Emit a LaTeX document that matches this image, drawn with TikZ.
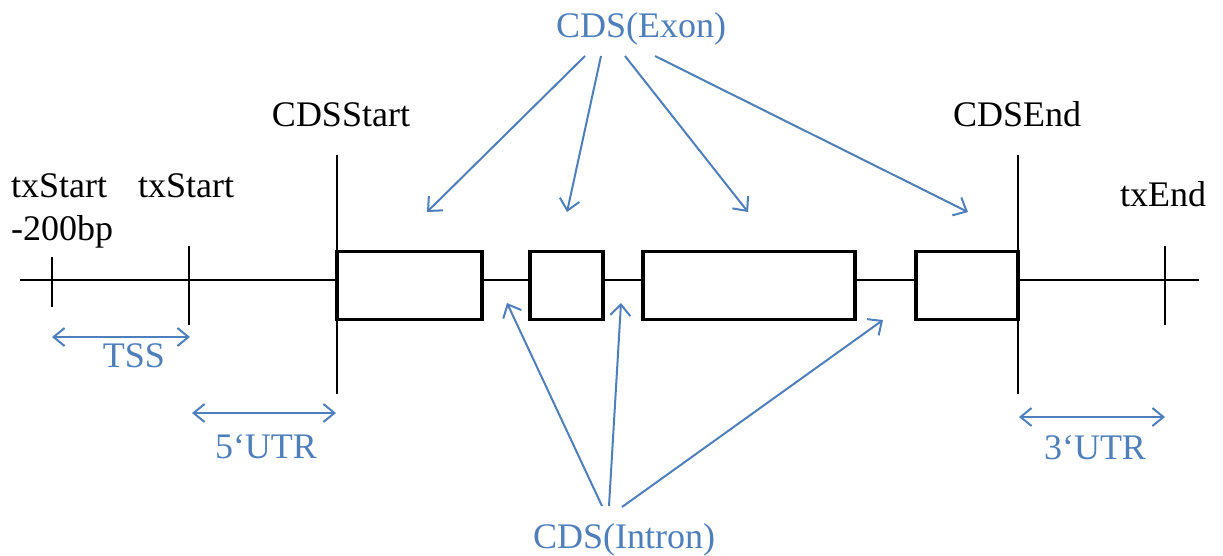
\documentclass[tikz,border=0pt]{standalone}
\usepackage{fontspec}
\setmainfont{Liberation Serif}
\usetikzlibrary{arrows.meta}
\definecolor{accent}{RGB}{79,127,186}
\tikzset{
  lbl/.style={inner sep=0pt, font=\fontsize{36}{42}\selectfont},
  blbl/.style={lbl, text=accent},
  axis/.style={line width=1.8pt, black},
  exonbox/.style={draw=black, fill=white, line width=3.4pt, inner sep=0pt, outer sep=0pt},
  pointer/.style={draw=accent, line width=2pt, -{Straight Barb[length=11pt,width=20pt,line width=2pt]}},
  span/.style={draw=accent, line width=2pt, {Straight Barb[length=11pt,width=18pt,line width=2pt]}-{Straight Barb[length=11pt,width=18pt,line width=2pt]}}
}
\begin{document}
\begin{tikzpicture}[x=1pt,y=-1pt]
\useasboundingbox (0,0) rectangle (1223,555);

% baseline of the transcript
\coordinate (lineL) at (20,280);
\coordinate (lineR) at (1199,280);
\draw[axis] (lineL) -- (lineR);

% position ticks
\coordinate (t1a) at (52,257);  \coordinate (t1b) at (52,307);
\coordinate (t2a) at (189,246); \coordinate (t2b) at (189,325);
\coordinate (csa) at (337,155); \coordinate (csb) at (337,394);
\coordinate (cea) at (1018,155); \coordinate (ceb) at (1018,394);
\coordinate (tea) at (1165,246); \coordinate (teb) at (1165,325);
\draw[axis] (t1a) -- (t1b);
\draw[axis] (t2a) -- (t2b);
\draw[axis] (csa) -- (csb);
\draw[axis] (cea) -- (ceb);
\draw[axis] (tea) -- (teb);

% exons
\node[exonbox, minimum width=145pt, minimum height=68pt] (ex1) at (409.5,285.5) {};
\node[exonbox, minimum width=73pt,  minimum height=68pt] (ex2) at (566.5,285.5) {};
\node[exonbox, minimum width=212pt, minimum height=68pt] (ex3) at (749,285.5) {};
\node[exonbox, minimum width=102pt, minimum height=68pt] (ex4) at (967,285.5) {};

% position labels
\node[lbl, anchor=base west] (txs0) at (11,197) {txStart};
\node[lbl, anchor=base west] (txs0b) at (11,240) {-200bp};
\node[lbl, anchor=base west] (txs) at (138,197) {txStart};
\node[lbl, anchor=base] (cdss) at (341,126) {CDSStart};
\node[lbl, anchor=base] (cdse) at (1017,126) {CDSEnd};
\node[lbl, anchor=base west] (txe) at (1120,206) {txEnd};

% region spans
\coordinate (tssL) at (52,337);  \coordinate (tssR) at (190,337);
\coordinate (u5L) at (192,413);  \coordinate (u5R) at (336,413);
\coordinate (u3L) at (1019,417); \coordinate (u3R) at (1165,417);
\draw[span] (tssL) -- (tssR);
\draw[span] (u5L) -- (u5R);
\draw[span] (u3L) -- (u3R);
\node[blbl, anchor=base] (tss) at (134,367) {TSS};
\node[blbl, anchor=base] (u5) at (266,458) {5‘UTR};
\node[blbl, anchor=base] (u3) at (1095,459) {3‘UTR};

% exon pointers
\node[blbl, anchor=base] (exl) at (641,37) {CDS(Exon)};
\coordinate (xs1) at (585,56);  \coordinate (xe1) at (427,212);
\coordinate (xs2) at (601,56);  \coordinate (xe2) at (567,212);
\coordinate (xs3) at (625,56);  \coordinate (xe3) at (748,212);
\coordinate (xs4) at (655,56);  \coordinate (xe4) at (968,212);
\draw[pointer] (xs1) -- (xe1);
\draw[pointer] (xs2) -- (xe2);
\draw[pointer] (xs3) -- (xe3);
\draw[pointer] (xs4) -- (xe4);

% intron pointers
\node[blbl, anchor=base] (inl) at (624,548) {CDS(Intron)};
\coordinate (is1) at (602,506); \coordinate (ie1) at (507,303);
\coordinate (is2) at (609,506); \coordinate (ie2) at (621,303);
\coordinate (is3) at (622,507); \coordinate (ie3) at (883,320);
\draw[pointer] (is1) -- (ie1);
\draw[pointer] (is2) -- (ie2);
\draw[pointer] (is3) -- (ie3);
\end{tikzpicture}
\end{document}
